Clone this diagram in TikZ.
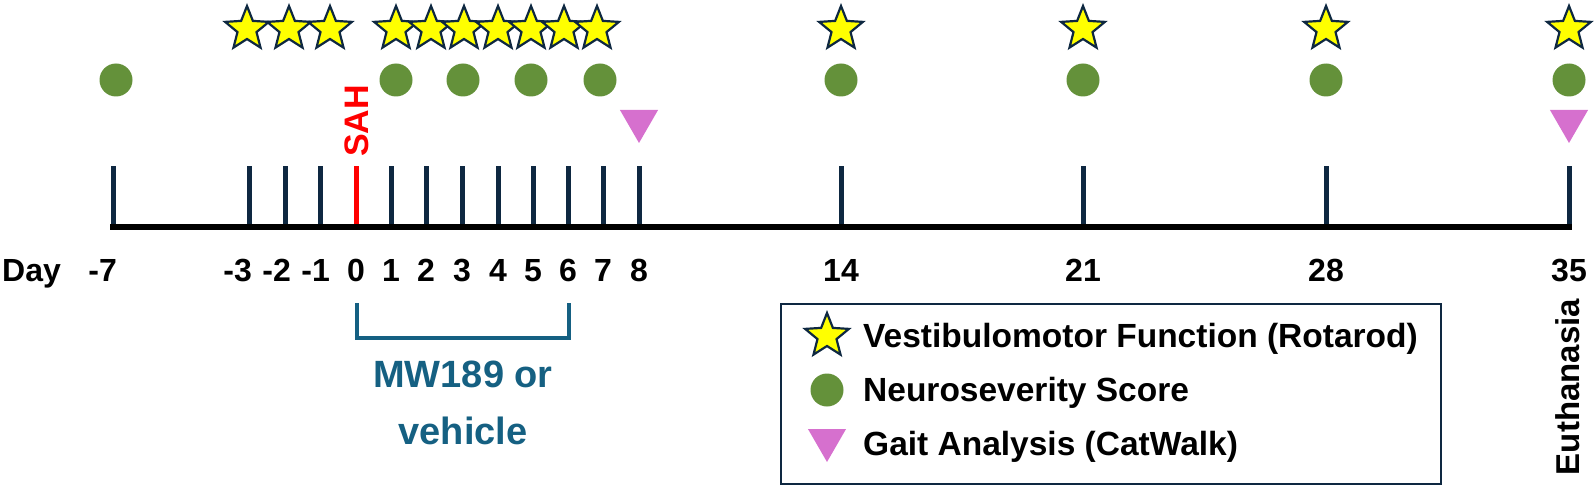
\documentclass[tikz,border=0pt]{standalone}
\usepackage{fontspec}
\setmainfont{Liberation Sans}
\usetikzlibrary{shapes.geometric,positioning}

\definecolor{navy}{RGB}{14,40,65}
\definecolor{staryellow}{RGB}{255,255,0}
\definecolor{neurogreen}{RGB}{100,145,58}
\definecolor{gaitpink}{RGB}{214,112,206}
\definecolor{drugteal}{RGB}{21,96,130}
\definecolor{sahred}{RGB}{255,0,0}

\begin{document}
\begin{tikzpicture}[
    x=1pt,
    y=-1pt,
    rotarod/.style={
        star,
        star points=5,
        star point ratio=2.3,
        minimum size=46pt,
        inner sep=0pt,
        fill=staryellow,
        draw=navy,
        line width=2.2pt
    },
    neuro/.style={
        circle,
        fill=neurogreen,
        minimum size=33pt,
        inner sep=0pt
    },
    gait/.style={
        regular polygon,
        regular polygon sides=3,
        shape border rotate=180,
        fill=gaitpink,
        minimum size=44pt,
        inner sep=0pt
    },
    daytick/.style={
        line width=5pt,
        color=navy
    },
    daylabel/.style={
        font=\fontsize{32}{38}\selectfont\bfseries,
        anchor=base,
        inner sep=0pt
    },
    legendtext/.style={
        font=\fontsize{33.5}{40}\selectfont\bfseries,
        anchor=base west,
        inner sep=0pt
    },
    drugtext/.style={
        font=\fontsize{38}{46}\selectfont\bfseries,
        text=drugteal,
        anchor=base,
        inner sep=0pt
    }
]
    \useasboundingbox (0,0) rectangle (1594,489);

    % --- Timeline: ticks and day labels ---
    \foreach \d/\x/\lx in {-7/113/108, -3/249/243, -2/285/282, -1/320/321,
                           0/356/356, 1/391/391, 2/426/426, 3/462/462,
                           4/498/498, 5/533/533, 6/568/568, 7/603/603,
                           8/639/639, 14/841/841, 21/1083/1083,
                           28/1326/1326, 35/1569/1569} {
        \coordinate (t\d) at (\x,227);
        \node [daylabel] (lbl\d) at (\lx,281)
            {\ifnum\d<0\llap{-}\number-\d\else\d\fi};
    }
    \foreach \d in {-7,-3,-2,-1,1,2,3,4,5,6,7,8,14,21,28,35}
        \draw [daytick] (t\d) -- ++(0,-61);
    \draw [daytick, color=sahred] (t0) -- ++(0,-61);
    \draw [line width=6pt, line cap=rect] (t-7) -- (t35);
    \node [daylabel, anchor=base west] (day) at (2,281) {Day};

    % SAH marker
    \node [rotate=90, inner sep=0pt, text=sahred,
           font=\fontsize{34}{40}\selectfont\bfseries] (sah) at (357,121) {SAH};

    % --- Rotarod stars ---
    \foreach \x in {247,289,330,396,431,464,498,531,564,597,841,1083,1326,1569}
        \node [rotarod] at (\x,29) {};

    % --- Neuroseverity circles ---
    \foreach \x in {116,396,463,531,600,841,1083,1326,1569}
        \node [neuro] at (\x,80) {};

    % --- CatWalk triangles ---
    \node [gait] (gait8) at (639,121) {};
    \node [gait] (gait35) at (1569,121) {};

    % --- Treatment bracket ---
    \coordinate (drugL) at (357,303);
    \coordinate (drugR) at (569,303);
    \draw [drugteal, line width=4pt] (drugL) -- ++(0,35) -| (drugR);
    \node [drugtext] (drug1) at (463,387) {MW189 or};
    \node [drugtext] (drug2) at (463,444) {vehicle};

    % --- Euthanasia ---
    \node [rotate=90, inner sep=0pt,
           font=\fontsize{33}{40}\selectfont\bfseries] (euth) at (1568,387) {Euthanasia};

    % --- Legend ---
    \node [draw=navy, line width=2.5pt, minimum width=660pt, minimum height=180pt,
           inner sep=0pt] (legend) at (1111,394) {};
    \node [rotarod] (lgstar) at (827,336) {};
    \node [neuro] (lgneuro) at (827,390) {};
    \node [gait] (lggait) at (827,440) {};
    \node [legendtext] (lgtxt1) at (863,347) {Vestibulomotor Function (Rotarod)};
    \node [legendtext] (lgtxt2) at (863,401) {Neuroseverity Score};
    \node [legendtext] (lgtxt3) at (863,455) {Gait Analysis (CatWalk)};

\end{tikzpicture}
\end{document}
